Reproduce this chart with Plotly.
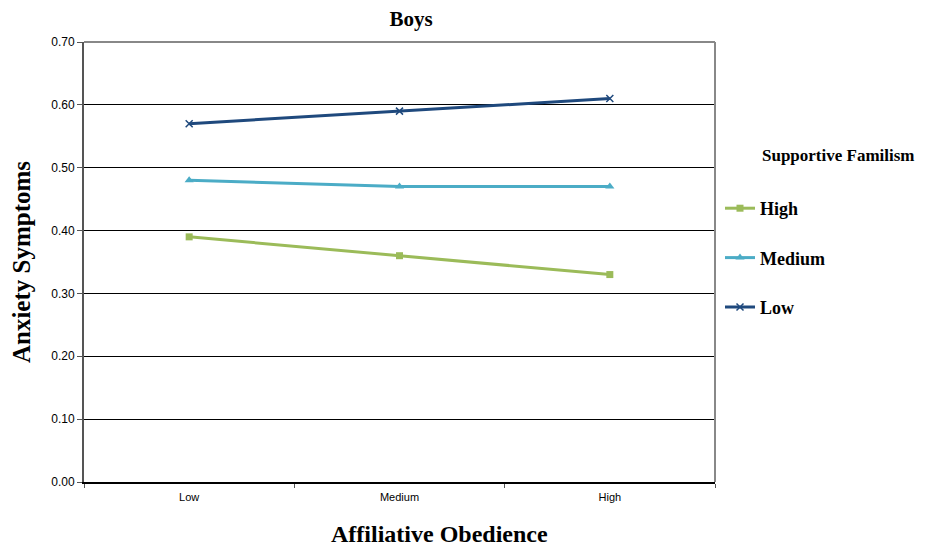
import plotly.graph_objects as go

categories = ["Low", "Medium", "High"]
high_vals = [0.39, 0.36, 0.33]
medium_vals = [0.48, 0.47, 0.47]
low_vals = [0.57, 0.59, 0.61]
y_ticks = [0.0, 0.1, 0.2, 0.3, 0.4, 0.5, 0.6, 0.7]

series = [
    ("<b>High</b>", high_vals, "#9BBB59", dict(symbol="square", size=7)),
    ("<b>Medium</b>", medium_vals, "#4BACC6", dict(symbol="triangle-up", size=8)),
    ("<b>Low</b>", low_vals, "#1F497D", dict(symbol="x-thin", size=7, line=dict(width=1.5, color="#1F497D"))),
]

fig = go.Figure()
for i, (name, vals, color, marker) in enumerate(series):
    fig.add_trace(go.Scatter(
        x=categories, y=vals, name=name, mode="lines+markers",
        line=dict(color=color, width=3),
        marker=dict(color=color, **marker),
        legendgroup=f"g{i}",
    ))

serif = "Liberation Serif"
sans = "Liberation Sans"

# page body adds an 8px offset; figure sized to fit the window
W, H = 910, 538
L, T = 76, 34
R = W - 707
B = H - 474
pw, ph = W - L - R, H - T - B

fig.update_layout(
    width=W, height=H,
    margin=dict(l=L, r=R, t=T, b=B, autoexpand=False),
    plot_bgcolor="white", paper_bgcolor="white",
    title=dict(text="<b>Boys</b>", x=403 / W, xanchor="center", y=1 - 11 / H, yanchor="middle",
               font=dict(family=serif, size=21, color="black")),
    xaxis=dict(
        type="category", range=[-0.5, 2.5], tickson="boundaries",
        ticks="outside", ticklen=4, tickcolor="#555555",
        showline=True, linecolor="black", linewidth=1.5, mirror=False,
        showgrid=False, automargin=False, ticklabelstandoff=4,
        tickfont=dict(family=sans, size=11, color="black"),
    ),
    yaxis=dict(
        range=[0, 0.7], tickvals=y_ticks, tickformat=".2f",
        ticks="outside", ticklen=5, tickcolor="#555555",
        showline=True, linecolor="#555555", linewidth=2,
        showgrid=True, gridcolor="black", gridwidth=1, automargin=False,
        tickfont=dict(family=sans, size=12, color="black"),
        title=dict(text="<b>Anxiety Symptoms</b>", font=dict(family=serif, size=25, color="black"), standoff=15),
        zeroline=False,
    ),
    legend=dict(
        x=(712 - L) / pw, xanchor="left",
        y=(H - B - 182) / ph, yanchor="top",
        font=dict(family=serif, size=18, color="black"),
        traceorder="grouped", tracegroupgap=23,
        bgcolor="rgba(0,0,0,0)", itemwidth=30,
    ),
    showlegend=True,
)

fig.add_shape(type="line", xref="paper", yref="paper", x0=0, x1=1, y0=1, y1=1,
              line=dict(color="#888888", width=2))
fig.add_shape(type="line", xref="paper", yref="paper", x0=1, x1=1, y0=0, y1=1,
              line=dict(color="#888888", width=2))

fig.add_annotation(text="<b>Supportive Familism</b>", xref="paper", yref="paper",
                   x=(752 - L) / pw, y=(H - B - 148) / ph, xanchor="left", yanchor="middle",
                   showarrow=False, font=dict(family=serif, size=17, color="black"))

# x-axis title (offset right of the plot centre, as in the original)
fig.add_annotation(text="<b>Affiliative Obedience</b>", xref="paper", yref="paper",
                   x=(432 - L) / pw, y=(H - B - 526) / ph, xanchor="center", yanchor="middle",
                   showarrow=False, font=dict(family=serif, size=24, color="black"))

fig.write_html("out.html")
